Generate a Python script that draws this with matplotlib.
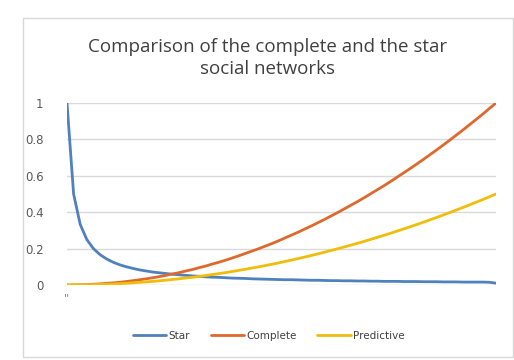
import matplotlib.pyplot as plt
from matplotlib.patches import Rectangle

# values (one point per category)
star = [1, 0.5, 0.333, 0.25, 0.2, 0.167, 0.143, 0.125, 0.111, 0.1,
        0.091, 0.083, 0.077, 0.071, 0.067, 0.063, 0.059, 0.056, 0.053, 0.05,
        0.048, 0.045, 0.043, 0.042, 0.04, 0.038, 0.037, 0.036, 0.034, 0.033,
        0.032, 0.031, 0.03, 0.029, 0.029, 0.028, 0.027, 0.026, 0.026, 0.025,
        0.024, 0.024, 0.023, 0.023, 0.022, 0.022, 0.021, 0.021, 0.02, 0.02,
        0.02, 0.019, 0.019, 0.019, 0.018, 0.018, 0.018, 0.017, 0.017, 0.017,
        0.016, 0.016, 0.016, 0.016, 0.015, 0.01]
complete = [0, 0.0002, 0.001, 0.002, 0.004, 0.006, 0.009, 0.012, 0.015, 0.019,
            0.024, 0.029, 0.034, 0.040, 0.046, 0.053, 0.061, 0.068, 0.077, 0.085,
            0.095, 0.104, 0.115, 0.125, 0.136, 0.148, 0.160, 0.173, 0.186, 0.199,
            0.213, 0.227, 0.242, 0.258, 0.274, 0.290, 0.307, 0.324, 0.342, 0.360,
            0.379, 0.398, 0.418, 0.438, 0.458, 0.479, 0.501, 0.523, 0.545, 0.568,
            0.592, 0.616, 0.640, 0.665, 0.690, 0.716, 0.742, 0.769, 0.796, 0.824,
            0.852, 0.881, 0.910, 0.939, 0.970, 1.0]
predictive = [0, 0.0001, 0.0005, 0.001, 0.002, 0.003, 0.0045, 0.006, 0.0075, 0.0095,
              0.012, 0.0145, 0.017, 0.020, 0.023, 0.0265, 0.0305, 0.034, 0.0385, 0.0425,
              0.0475, 0.052, 0.0575, 0.0625, 0.068, 0.074, 0.080, 0.0865, 0.093, 0.0995,
              0.1065, 0.1135, 0.121, 0.129, 0.137, 0.145, 0.1535, 0.162, 0.171, 0.180,
              0.1895, 0.199, 0.209, 0.219, 0.229, 0.2395, 0.2505, 0.2615, 0.2725, 0.284,
              0.296, 0.308, 0.320, 0.3325, 0.345, 0.358, 0.371, 0.3845, 0.398, 0.412,
              0.426, 0.4405, 0.455, 0.4695, 0.485, 0.5]
y_ticks = [0, 0.2, 0.4, 0.6, 0.8, 1]
y_labels = ["0", "0.2", "0.4", "0.6", "0.8", "1"]

x = list(range(len(star)))

fig = plt.figure(figsize=(5.14, 3.6), dpi=100)
fig.patches.append(Rectangle((23 / 514, 3 / 360), 490 / 514, 339 / 360,
                             transform=fig.transFigure, fill=False,
                             edgecolor="#d9d9d9", linewidth=1))

ax = fig.add_axes([67 / 514, 1 - 285 / 360, 429 / 514, 182 / 360])
ax.plot(x, star, color="#4f81bd", lw=2.0, label="Star", solid_capstyle="round")
ax.plot(x, complete, color="#dd6a2c", lw=2.0, label="Complete", solid_capstyle="round")
ax.plot(x, predictive, color="#efbd0a", lw=2.0, label="Predictive", solid_capstyle="round")

ax.set_xlim(0, len(star) - 1)
ax.set_ylim(0, 1)
ax.set_yticks(y_ticks)
ax.set_yticklabels(y_labels, fontsize=8.5, color="#595959")
ax.tick_params(axis="y", length=0, pad=17)
ax.set_xticks([0])
ax.set_xticklabels(["''"], fontsize=8, color="#808080")
ax.tick_params(axis="x", length=0, pad=6)
ax.grid(axis="y", color="#d9d9d9", lw=1)
ax.set_axisbelow(True)
for s in ax.spines.values():
    s.set_visible(False)

fig.text(268 / 514, 1 - 58 / 360, "Comparison of the complete and the star\nsocial networks",
         ha="center", va="center", fontsize=13.5, color="#404040",
         family="Open Sans", linespacing=1.25)

ax.legend(loc="center", bbox_to_anchor=(0.47, -0.28), ncol=3, frameon=False,
          fontsize=7.5, handlelength=3.2, handletextpad=0.2, columnspacing=2.0,
          labelcolor="#404040")

fig.savefig("out.png", dpi=100)
